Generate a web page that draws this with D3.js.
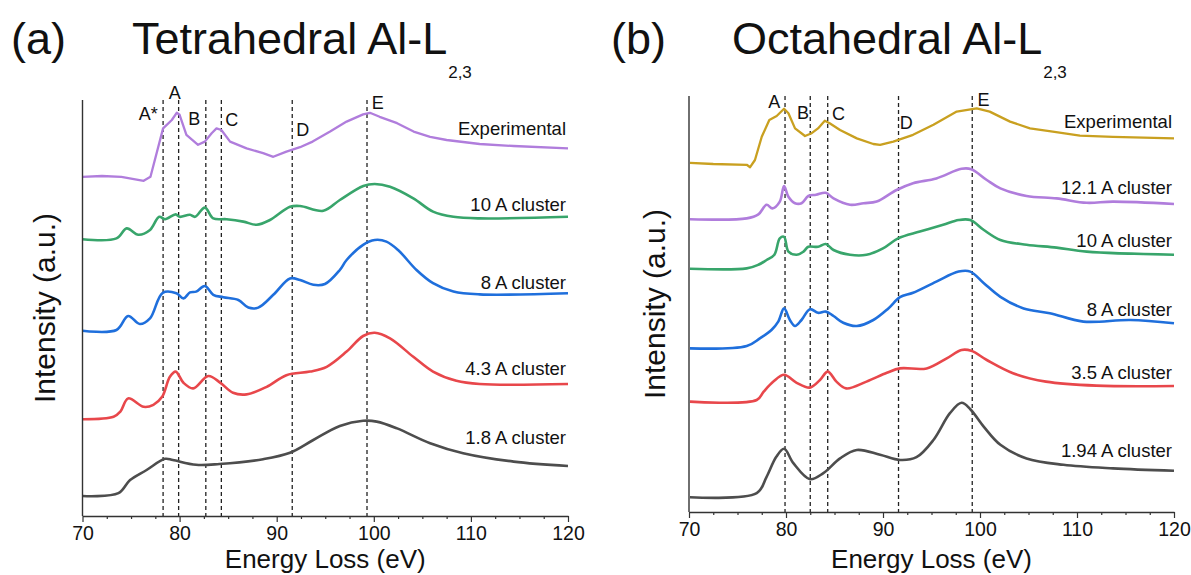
<!DOCTYPE html>
<html>
<head>
<meta charset="utf-8">
<script src="https://cdn.jsdelivr.net/npm/d3@7"></script>
<style>
  body { margin: 0; background: #fff; }
  text { font-family: "Liberation Sans", Arial, sans-serif; fill: #111; }
</style>
</head>
<body>
<svg id="chart" width="1191" height="575"></svg>
<script>
// ---- data: [energy loss (eV), intensity (a.u., stacked)] ----
const xTicks = [70, 80, 90, 100, 110, 120];

// (a) tetrahedral Al-L2,3
const tetExperimental = [[70,8.48],[72,8.5],[74,8.48],[76.3,8.38],[77,8.48],[78.3,9.69],[79.2,9.9],[79.7,10.08],[80,10.03],[80.7,9.53],[81.9,9.28],[82.6,9.36],[83.3,9.57],[83.8,9.69],[84.3,9.65],[85.2,9.36],[86.9,9.19],[88.6,9.07],[89.65,8.98],[91,9.11],[92.4,9.22],[93.7,9.36],[95.5,9.61],[97.2,9.86],[98.9,10.04],[99.6,10.08],[100.6,9.98],[102.4,9.82],[104.1,9.61],[105.8,9.48],[107.5,9.4],[110.9,9.3],[114.4,9.25],[120,9.19]];
const tet10A = [[70,6.92],[73.5,6.94],[74.55,7.19],[75.75,7.03],[76.95,7.15],[77.9,7.48],[78.5,7.42],[79.6,7.54],[80,7.48],[81.07,7.53],[81.6,7.48],[82.6,7.71],[83.47,7.44],[84.85,7.42],[86.56,7.36],[87.94,7.28],[89.3,7.4],[91.37,7.73],[92.4,7.75],[94.8,7.63],[96.5,7.9],[98.92,8.25],[100.1,8.3],[101.67,8.23],[104.07,7.94],[106.1,7.61],[108.2,7.48],[110.9,7.44],[120,7.48]];
const tet8A = [[70,4.63],[73.5,4.65],[74.7,5.0],[75.9,4.8],[76.95,4.94],[78.26,5.58],[79.67,5.57],[80.4,5.44],[81.07,5.59],[81.7,5.61],[82.6,5.75],[83.47,5.53],[84.5,5.47],[86.05,5.4],[87.08,5.21],[88.1,5.21],[89.65,5.53],[91.37,5.94],[92.4,5.9],[93.77,5.78],[94.97,5.8],[96.5,6.15],[97.2,6.4],[98.9,6.78],[100.1,6.9],[101.3,6.86],[102.5,6.65],[104.4,6.15],[106.1,5.82],[108.2,5.61],[110.9,5.54],[120,5.57]];
const tet43A = [[70,2.42],[73.2,2.48],[73.9,2.61],[74.7,2.94],[76.3,2.73],[77.3,2.78],[78.2,2.98],[79,3.48],[79.6,3.61],[80.4,3.33],[81.4,3.19],[82.96,3.5],[84.2,3.33],[85.5,3.08],[86.9,3.04],[88.97,3.23],[91,3.52],[93.43,3.61],[95.15,3.73],[97.2,4.11],[98.9,4.5],[100.1,4.58],[101.67,4.44],[104.07,3.98],[106.1,3.61],[108.5,3.38],[110.9,3.3],[120,3.3]];
const tet18A = [[70,0.5],[73.7,0.57],[74.9,0.9],[76.6,1.15],[78.5,1.43],[79.3,1.4],[81.7,1.28],[84.1,1.3],[88.6,1.42],[91.37,1.58],[93.77,1.9],[96.5,2.25],[98.9,2.38],[100.3,2.36],[102.4,2.19],[105.8,1.82],[109.2,1.57],[114.4,1.36],[120,1.25]];
const tetMarkers = [78.3, 79.9, 82.7, 84.3, 91.6, 99.3];
const tetPeaks = ["A*", "A", "B", "C", "D", "E"];

// (b) octahedral Al-L2,3
const octExperimental = [[70.1,8.73],[72.5,8.7],[75.95,8.68],[76.3,8.62],[76.8,8.8],[77.5,9.38],[78.28,9.8],[79.04,9.9],[79.8,10.08],[80.25,9.97],[80.93,9.59],[81.96,9.4],[82.65,9.47],[83.3,9.59],[84,9.78],[84.5,9.72],[85.57,9.55],[87.3,9.34],[89,9.2],[89.7,9.18],[91.06,9.26],[93.1,9.43],[95.2,9.68],[97.6,10.01],[99.66,10.09],[101,10.01],[103.1,9.76],[105.15,9.59],[107.5,9.51],[110.3,9.41],[113.7,9.38],[120,9.34]];
const oct121A = [[70.1,7.32],[75.95,7.34],[77.15,7.44],[78,7.68],[78.6,7.59],[79.36,7.76],[79.8,8.15],[80.25,7.88],[80.93,7.72],[81.6,7.72],[82.3,7.9],[83.1,7.93],[84.1,7.98],[84.9,7.84],[86.6,7.68],[88,7.72],[89.35,7.76],[91.4,8.05],[93.1,8.22],[95.5,8.34],[98.1,8.58],[99.1,8.57],[100.7,8.3],[102.1,8.09],[104.8,7.9],[107.9,7.84],[111,7.73],[113.7,7.76],[120,7.7]];
const oct10A = [[70.1,6.08],[75.95,6.09],[77.15,6.18],[78,6.3],[78.8,6.43],[79.36,6.84],[79.8,6.88],[80.25,6.51],[81.1,6.43],[81.8,6.51],[82.3,6.63],[83.3,6.63],[84.1,6.7],[84.9,6.55],[86.6,6.43],[88.3,6.43],[90,6.59],[91.55,6.84],[93.8,7.01],[96.2,7.18],[97.8,7.3],[99,7.3],[100.4,7.05],[102.1,6.8],[104.8,6.68],[107.9,6.61],[111,6.51],[120,6.43]];
const oct8A = [[70.1,4.09],[75.95,4.15],[77.3,4.34],[78.5,4.55],[79.2,4.76],[79.8,5.09],[80.4,4.8],[80.93,4.65],[81.6,4.8],[82.47,5.07],[83.3,4.98],[84.1,5.01],[84.9,4.9],[85.9,4.73],[87.3,4.65],[89,4.8],[90.55,5.09],[91.75,5.37],[93.1,5.48],[95.5,5.76],[97.8,6.01],[99,6.01],[100.4,5.72],[102.1,5.38],[104.5,5.09],[107.2,4.97],[110.65,4.76],[115.5,4.8],[120,4.72]];
const oct35A = [[70.1,2.76],[76.98,2.8],[77.7,3.01],[78.7,3.26],[79.8,3.43],[81.1,3.23],[82.47,3.11],[83.5,3.3],[84.3,3.51],[85.2,3.26],[86.2,3.09],[88.3,3.26],[90.4,3.48],[91.75,3.59],[94.5,3.59],[96.57,3.84],[98.1,4.05],[99.1,4.03],[100.7,3.8],[103.4,3.47],[106.8,3.26],[112,3.16],[120,3.15]];
const oct194A = [[70.1,0.37],[76.98,0.47],[78,0.88],[79,1.38],[79.8,1.58],[80.76,1.22],[82.47,0.82],[83.85,0.97],[85.57,1.34],[87.3,1.55],[89.7,1.43],[91.75,1.3],[93.45,1.37],[95.2,1.8],[96.9,2.47],[98.1,2.73],[99,2.57],[100.4,2.13],[102.1,1.68],[104.8,1.34],[108.6,1.18],[113.7,1.09],[120,1.03]];
const octMarkers = [79.9, 82.5, 84.3, 91.6, 99.2];
const octPeaks = ["A", "B", "C", "D", "E"];

// ---- panel layout ----
const colors = {
  purple: "#b07ddc", green: "#38a56b", blue: "#1f6fdc",
  red: "#e8474b", gray: "#4d4d4d", gold: "#c9a020"
};

const panels = [
  {
    letter: "(a)", title: "Tetrahedral Al-L", letterX: 11, titleX: 132,
    x0: 82.5, x1: 568, yBottom: 516, yTop: 100, yTitleX: 44,
    series: [
      { name: "Experimental", data: tetExperimental, color: colors.purple, labelY: 9.68, exp: true },
      { name: "10 A cluster", data: tet10A, color: colors.green, labelY: 7.78 },
      { name: "8 A cluster", data: tet8A, color: colors.blue, labelY: 5.83 },
      { name: "4.3 A cluster", data: tet43A, color: colors.red, labelY: 3.68 },
      { name: "1.8 A cluster", data: tet18A, color: colors.gray, labelY: 1.95 }
    ],
    markers: tetMarkers,
    peaks: tetPeaks.map((t, i) => ({ text: t, x: [76.78, 79.5, 81.5, 85.36, 92.67, 100.4][i], y: [10.07, 10.58, 9.94, 9.92, 9.67, 10.33][i] }))
  },
  {
    letter: "(b)", title: "Octahedral Al-L", letterX: 611, titleX: 732,
    x0: 689, x1: 1174, yBottom: 512, yTop: 96, yTitleX: 654,
    series: [
      { name: "Experimental", data: octExperimental, color: colors.gold, labelY: 9.76, exp: true },
      { name: "12.1 A cluster", data: oct121A, color: colors.purple, labelY: 8.12 },
      { name: "10 A cluster", data: oct10A, color: colors.green, labelY: 6.78 },
      { name: "8 A cluster", data: oct8A, color: colors.blue, labelY: 5.07 },
      { name: "3.5 A cluster", data: oct35A, color: colors.red, labelY: 3.49 },
      { name: "1.94 A cluster", data: oct194A, color: colors.gray, labelY: 1.53 }
    ],
    markers: octMarkers,
    peaks: octPeaks.map((t, i) => ({ text: t, x: [78.8, 81.76, 85.4, 92.4, 100.35][i], y: [10.26, 9.98, 9.95, 9.73, 10.32][i] }))
  }
];

const svg = d3.select("#chart");

panels.forEach(p => {
  const x = d3.scaleLinear().domain([70, 120]).range([p.x0, p.x1]);
  const y = d3.scaleLinear().domain([0, 10.4]).range([p.yBottom, p.yTop]);
  const g = svg.append("g");

  // panel letter + title with subscript
  g.append("text").attr("x", p.letterX).attr("y", 54)
    .style("font-size", "45px").text(p.letter);
  const t = g.append("text").attr("x", p.titleX).attr("y", 54).style("font-size", "45px");
  t.append("tspan").text(p.title);
  t.append("tspan").attr("dy", 24).attr("dx", 1).style("font-size", "17px").text("2,3");

  // dashed peak markers
  g.selectAll(".marker").data(p.markers).join("line")
    .attr("x1", d => x(d)).attr("x2", d => x(d))
    .attr("y1", y(10.4)).attr("y2", y(0))
    .attr("stroke", "#222").attr("stroke-width", 1.3)
    .attr("stroke-dasharray", "4,3");

  g.selectAll(".peak").data(p.peaks).join("text")
    .attr("x", d => x(d.x)).attr("y", d => y(d.y))
    .attr("text-anchor", "middle").attr("dy", "0.35em")
    .style("font-size", "18px").text(d => d.text);

  // spectra
  p.series.forEach(s => {
    const line = d3.line()
      .x(d => x(d[0])).y(d => y(d[1]))
      .curve(s.exp ? d3.curveLinear : d3.curveCatmullRom.alpha(0.5));
    g.append("path").datum(s.data)
      .attr("d", line)
      .attr("fill", "none")
      .attr("stroke", s.color)
      .attr("stroke-width", s.exp ? 2.3 : 2.6)
      .attr("stroke-linejoin", "round");
    g.append("text").attr("x", p.x1 - 2).attr("y", y(s.labelY))
      .attr("text-anchor", "end").attr("dy", "0.35em")
      .style("font-size", "18.5px").text(s.name);
  });

  // axes
  const minor = d3.range(70, 120.1, 2.5).filter(v => v % 10 !== 0);
  g.append("g").attr("transform", `translate(0,${p.yBottom})`)
    .call(d3.axisBottom(x).tickValues(minor).tickSize(3).tickFormat(""))
    .call(a => a.select(".domain").remove())
    .selectAll("line").attr("stroke", "#333").attr("stroke-width", 1.2);

  const xAxis = g.append("g").attr("transform", `translate(0,${p.yBottom})`)
    .call(d3.axisBottom(x).tickValues(xTicks).tickSize(6).tickSizeOuter(0));
  xAxis.select(".domain").attr("stroke", "#333").attr("stroke-width", 1.4);
  xAxis.selectAll(".tick line").attr("stroke", "#333").attr("stroke-width", 1.2);
  xAxis.selectAll(".tick text")
    .attr("y", 10)
    .style("font-size", "19.5px")
    .style("font-family", "'Liberation Sans', Arial, sans-serif")
    .attr("fill", "#111");

  g.append("line")
    .attr("x1", p.x0).attr("x2", p.x0)
    .attr("y1", p.yTop).attr("y2", p.yBottom)
    .attr("stroke", "#333").attr("stroke-width", 1.4);

  g.append("text")
    .attr("x", (p.x0 + p.x1) / 2).attr("y", 568)
    .attr("text-anchor", "middle")
    .style("font-size", "26px").text("Energy Loss (eV)");

  g.append("text")
    .attr("transform", `translate(${p.yTitleX},${(p.yTop + p.yBottom) / 2}) rotate(-90)`)
    .attr("text-anchor", "middle").attr("dy", "0.35em")
    .style("font-size", "30px").text("Intensity (a.u.)");
});
</script>
</body>
</html>
